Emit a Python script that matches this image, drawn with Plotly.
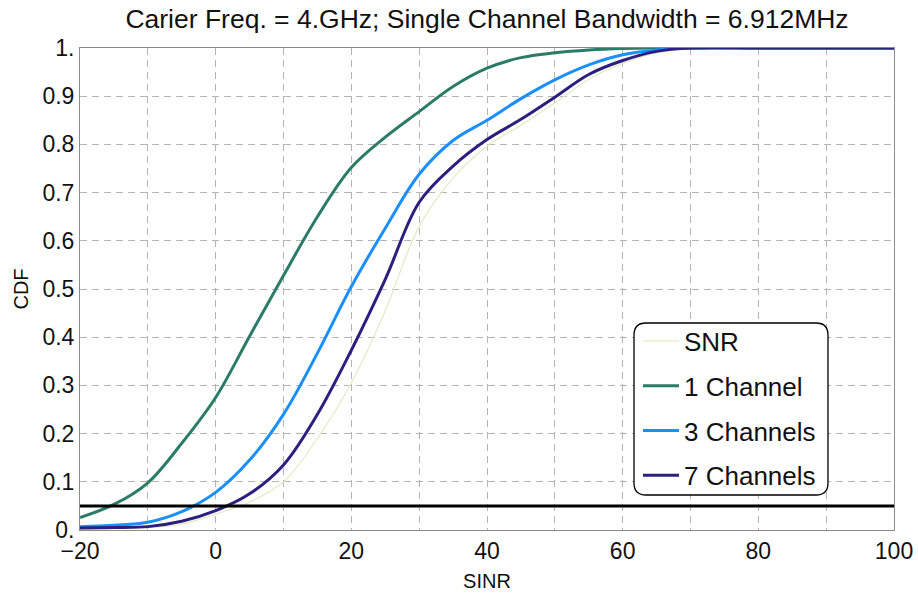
import plotly.graph_objects as go

# SINR sample points (dB) shared by all CDF curves
sinr = [-20, -15, -10, -5, 0, 5, 10, 15, 20, 25, 30, 35, 40, 45, 50, 55, 60, 65, 70, 80, 90, 100]

cdf_snr = [0.002, 0.003, 0.005, 0.012, 0.033, 0.058, 0.100, 0.190, 0.305, 0.455, 0.630, 0.730,
           0.796, 0.840, 0.886, 0.935, 0.968, 0.990, 1.0, 1.0, 1.0, 1.0]
cdf_1ch = [0.026, 0.053, 0.098, 0.180, 0.275, 0.402, 0.528, 0.650, 0.752, 0.815, 0.868, 0.920,
           0.958, 0.980, 0.990, 0.996, 0.999, 1.0, 1.0, 1.0, 1.0, 1.0]
cdf_3ch = [0.007, 0.010, 0.016, 0.038, 0.078, 0.145, 0.240, 0.367, 0.505, 0.626, 0.738, 0.808,
           0.850, 0.895, 0.934, 0.965, 0.986, 0.996, 1.0, 1.0, 1.0, 1.0]
cdf_7ch = [0.004, 0.005, 0.007, 0.018, 0.040, 0.075, 0.135, 0.240, 0.373, 0.520, 0.680, 0.755,
           0.810, 0.852, 0.898, 0.945, 0.974, 0.993, 1.0, 1.0, 1.0, 1.0]

series_names = ["SNR", "1 Channel", "3 Channels", "7 Channels"]
threshold = 0.05

x_ticks = [-20, -10, 0, 10, 20, 30, 40, 50, 60, 70, 80, 90, 100]
x_ticktext = ["\u221220", "", "0", "", "20", "", "40", "", "60", "", "80", "", "100"]
y_ticks = [0, 0.1, 0.2, 0.3, 0.4, 0.5, 0.6, 0.7, 0.8, 0.9, 1.0]
y_ticktext = ["0.", "0.1", "0.2", "0.3", "0.4", "0.5", "0.6", "0.7", "0.8", "0.9", "1."]

colors = ["#e4eac4", "#2b7b69", "#1a8fff", "#2c1f7f"]
widths = [1.2, 3, 3, 3]
FONT = "Liberation Sans, Arial, sans-serif"

fig = go.Figure()
for name, y, c, w in zip(series_names, [cdf_snr, cdf_1ch, cdf_3ch, cdf_7ch], colors, widths):
    fig.add_trace(go.Scatter(
        x=sinr, y=y, name=name, mode="lines",
        line=dict(color=c, width=w, shape="spline", smoothing=1.0),
        legendgroup=name,
    ))

# horizontal 5% reference level
fig.add_trace(go.Scatter(
    x=[x_ticks[0], x_ticks[-1]], y=[threshold, threshold], mode="lines",
    line=dict(color="black", width=3), showlegend=False, hoverinfo="skip",
))

# rounded legend frame (paper coordinates)
x0, x1 = 0.6806, 0.9189
y0, y1 = 0.0726, 0.4295
rx, ry = 12 / 814, 12 / 482
path = (f"M{x0+rx},{y0} L{x1-rx},{y0} Q{x1},{y0} {x1},{y0+ry} "
        f"L{x1},{y1-ry} Q{x1},{y1} {x1-rx},{y1} L{x0+rx},{y1} "
        f"Q{x0},{y1} {x0},{y1-ry} L{x0},{y0+ry} Q{x0},{y0} {x0+rx},{y0} Z")
fig.add_shape(type="path", path=path, xref="paper", yref="paper",
              fillcolor="white", line=dict(color="black", width=1.3), layer="above")

grid = dict(showgrid=True, gridcolor="#b5b5b5", gridwidth=1.3, griddash="7px,5px",
            showline=True, linecolor="#8c8c8c", linewidth=1, mirror=True,
            zeroline=False, ticks="", automargin=False,
            tickfont=dict(size=23, color="#111", family=FONT))

fig.update_layout(
    width=918, height=599,
    margin=dict(l=80, r=24, t=48, b=69),
    paper_bgcolor="white", plot_bgcolor="white",
    font=dict(family=FONT, color="#111"),
    title=dict(text="Carier Freq. = 4.GHz; Single Channel Bandwidth = 6.912MHz",
               x=0.5, xref="paper", xanchor="center",
               y=1 - 19 / 599, yref="container", yanchor="middle",
               font=dict(size=26.5, color="#111", family=FONT)),
    xaxis=dict(range=[-20, 100], tickvals=x_ticks, ticktext=x_ticktext,
               title=dict(text="SINR", font=dict(size=20, family=FONT), standoff=11), **grid),
    yaxis=dict(range=[0, 1], tickvals=y_ticks, ticktext=y_ticktext,
               title=dict(text="CDF", font=dict(size=20, family=FONT), standoff=8), **grid),
    showlegend=True,
    legend=dict(x=0.6855, y=0.441, xanchor="left", yanchor="top",
                bgcolor="rgba(0,0,0,0)", borderwidth=0, itemwidth=36,
                traceorder="grouped", tracegroupgap=8,
                font=dict(size=26, color="#111", family=FONT)),
)

fig.write_html("out.html")
